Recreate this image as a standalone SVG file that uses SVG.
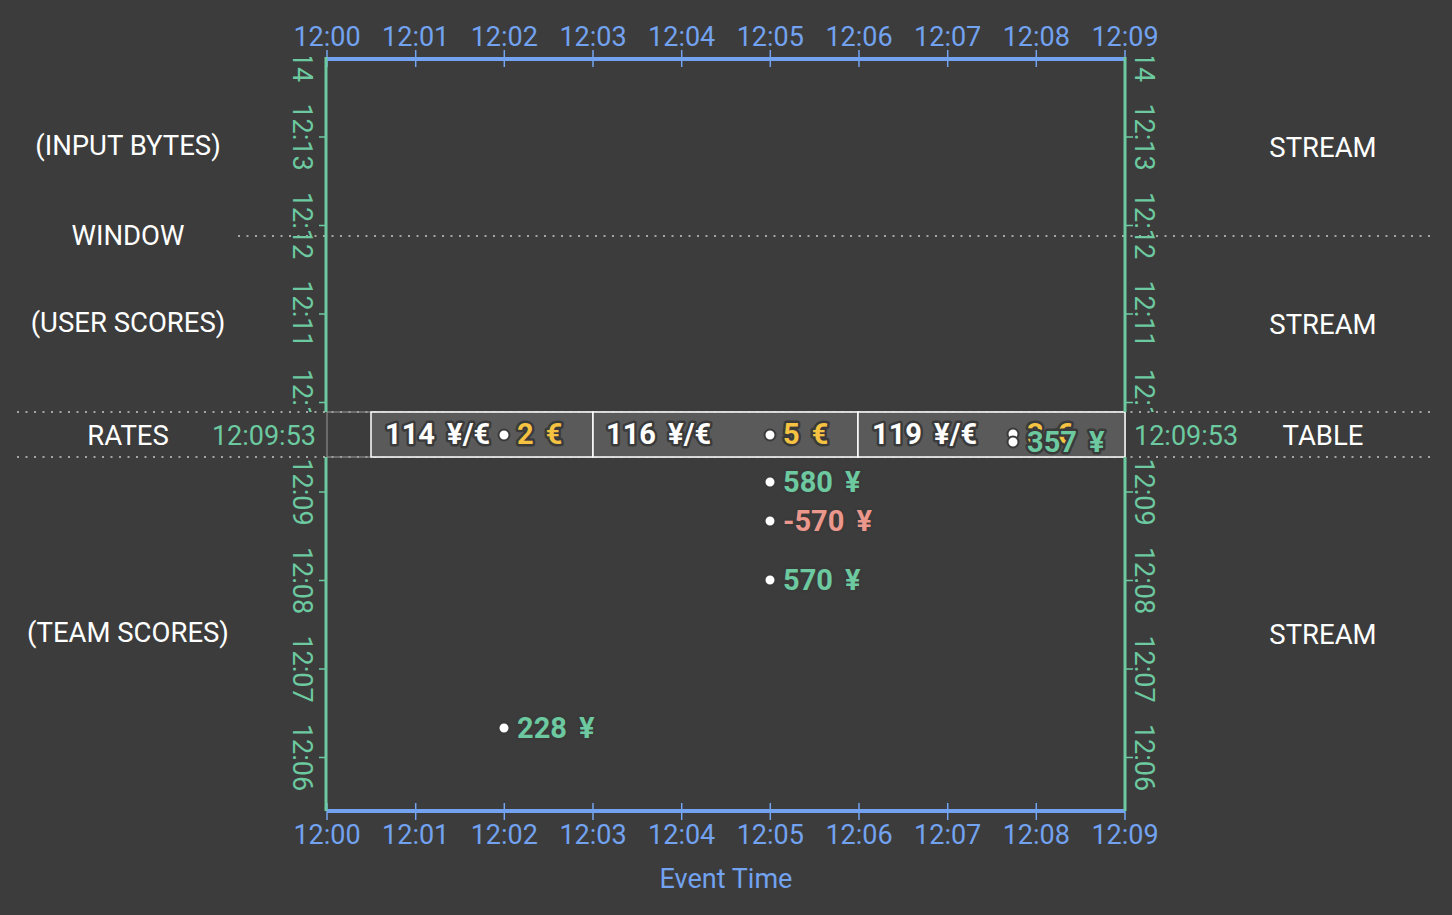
<svg xmlns="http://www.w3.org/2000/svg" width="1452" height="915" viewBox="0 0 1452 915">
<defs>
<style>
.bg{fill:#3c3c3c}
.ax{font-family:Roboto,"Liberation Sans",sans-serif;font-size:27px;fill:#72a2f0}
.gt{font-family:Roboto,"Liberation Sans",sans-serif;font-size:27px;fill:#6cc9a0}
.lab{font-family:Roboto,"Liberation Sans",sans-serif;font-size:27.5px;fill:#ffffff;text-anchor:middle}
.b{font-family:Roboto,"Liberation Sans",sans-serif;font-size:29px;font-weight:bold;word-spacing:5px;paint-order:stroke;stroke:#3a3a3a;stroke-width:5px;stroke-linejoin:round}
.w{fill:#ffffff}.o{fill:#f5c242}.g{fill:#6cc9a0}.r{fill:#ec978b}
.dot{fill:#ffffff;stroke:#3a3a3a;stroke-width:2}
.dl{stroke:#c8c8c8;stroke-width:1.5;stroke-dasharray:2 6.5;fill:none}
.blue{stroke:#72a2f0;fill:none}
.green{stroke:#6cc9a0;fill:none}
.cell{fill:#5a5a5a;stroke:#ffffff;stroke-width:1.5}
</style>
<clipPath id="cu"><rect x="0" y="57" width="1452" height="355"/></clipPath>
<clipPath id="cl"><rect x="0" y="457" width="1452" height="354"/></clipPath>
</defs>
<rect class="bg" x="0" y="0" width="1452" height="915"/>

<g id="row-labels">
<text class="lab" x="128" y="155">(INPUT BYTES)</text>
<text class="lab" x="128" y="245">WINDOW</text>
<text class="lab" x="128" y="332">(USER SCORES)</text>
<text class="lab" x="128" y="445">RATES</text>
<text class="lab" x="128" y="642">(TEAM SCORES)</text>
<text class="lab" x="1323" y="157">STREAM</text>
<text class="lab" x="1323" y="334">STREAM</text>
<text class="lab" x="1323" y="445">TABLE</text>
<text class="lab" x="1323" y="644">STREAM</text>
</g>

<g id="separators">
<line class="dl" x1="238" y1="236" x2="1436" y2="236"/>
<line class="dl" x1="17" y1="412" x2="1436" y2="412"/>
<line class="dl" x1="17" y1="457" x2="1436" y2="457"/>
</g>

<g id="rates-table">
<rect x="327" y="412" width="798" height="45" fill="none" stroke="#9a9a9a" stroke-width="1"/>
<rect class="cell" x="371" y="412" width="222" height="45"/>
<rect class="cell" x="593" y="412" width="265" height="45"/>
<rect class="cell" x="858" y="412" width="267" height="45"/>
<text class="gt" x="316" y="445" text-anchor="end">12:09:53</text>
<text class="gt" x="1134" y="445">12:09:53</text>
</g>

<g id="top-axis">
<line class="blue" x1="327" y1="59" x2="1125" y2="59" stroke-width="4"/>
<path class="blue" stroke-width="1.5" d="M327 50V67M415.7 50V67M504.3 50V67M593 50V67M681.7 50V67M770.3 50V67M859 50V67M947.7 50V67M1036.3 50V67M1125 50V67"/>
<g class="ax" text-anchor="middle">
<text x="327" y="46">12:00</text><text x="415.7" y="46">12:01</text><text x="504.3" y="46">12:02</text><text x="593" y="46">12:03</text><text x="681.7" y="46">12:04</text><text x="770.3" y="46">12:05</text><text x="859" y="46">12:06</text><text x="947.7" y="46">12:07</text><text x="1036.3" y="46">12:08</text><text x="1125" y="46">12:09</text>
</g>
</g>

<g id="bottom-axis">
<line class="blue" x1="327" y1="811" x2="1125" y2="811" stroke-width="4"/>
<path class="blue" stroke-width="1.5" d="M327 803V820M415.7 803V820M504.3 803V820M593 803V820M681.7 803V820M770.3 803V820M859 803V820M947.7 803V820M1036.3 803V820M1125 803V820"/>
<g class="ax" text-anchor="middle">
<text x="327" y="844">12:00</text><text x="415.7" y="844">12:01</text><text x="504.3" y="844">12:02</text><text x="593" y="844">12:03</text><text x="681.7" y="844">12:04</text><text x="770.3" y="844">12:05</text><text x="859" y="844">12:06</text><text x="947.7" y="844">12:07</text><text x="1036.3" y="844">12:08</text><text x="1125" y="844">12:09</text>
<text x="726" y="888">Event Time</text>
</g>
</g>

<g id="left-axis-upper">
<line class="green" x1="326" y1="57" x2="326" y2="412" stroke-width="3"/>
<path class="green" stroke-width="1.5" d="M319 137H326M319 225.5H326M319 314H326M319 402.5H326"/>
<g class="gt" text-anchor="middle" clip-path="url(#cu)">
<text transform="translate(293 48.5) rotate(90)">12:14</text>
<text transform="translate(293 137) rotate(90)">12:13</text>
<text transform="translate(293 225.5) rotate(90)">12:12</text>
<text transform="translate(293 314) rotate(90)">12:11</text>
<text transform="translate(293 402.5) rotate(90)">12:10</text>
</g>
</g>

<g id="right-axis-upper">
<line class="green" x1="1125" y1="57" x2="1125" y2="412" stroke-width="3"/>
<path class="green" stroke-width="1.5" d="M1125 137H1133M1125 225.5H1133M1125 314H1133M1125 402.5H1133"/>
<g class="gt" text-anchor="middle" clip-path="url(#cu)">
<text transform="translate(1135 48.5) rotate(90)">12:14</text>
<text transform="translate(1135 137) rotate(90)">12:13</text>
<text transform="translate(1135 225.5) rotate(90)">12:12</text>
<text transform="translate(1135 314) rotate(90)">12:11</text>
<text transform="translate(1135 402.5) rotate(90)">12:10</text>
</g>
</g>

<g id="left-axis-lower">
<line class="green" x1="326" y1="457" x2="326" y2="811" stroke-width="3"/>
<path class="green" stroke-width="1.5" d="M319 492H326M319 580.5H326M319 669H326M319 757.5H326"/>
<g class="gt" text-anchor="middle" clip-path="url(#cl)">
<text transform="translate(293 492) rotate(90)">12:09</text>
<text transform="translate(293 580.5) rotate(90)">12:08</text>
<text transform="translate(293 669) rotate(90)">12:07</text>
<text transform="translate(293 757.5) rotate(90)">12:06</text>
</g>
</g>

<g id="right-axis-lower">
<line class="green" x1="1125" y1="457" x2="1125" y2="811" stroke-width="3"/>
<path class="green" stroke-width="1.5" d="M1125 492H1133M1125 580.5H1133M1125 669H1133M1125 757.5H1133"/>
<g class="gt" text-anchor="middle" clip-path="url(#cl)">
<text transform="translate(1135 492) rotate(90)">12:09</text>
<text transform="translate(1135 580.5) rotate(90)">12:08</text>
<text transform="translate(1135 669) rotate(90)">12:07</text>
<text transform="translate(1135 757.5) rotate(90)">12:06</text>
</g>
</g>

<g id="rate-114"><text class="b w" x="385" y="444">114 ¥/€</text></g>
<g id="rate-116"><text class="b w" x="606" y="444">116 ¥/€</text></g>
<g id="rate-119"><text class="b w" x="872" y="444">119 ¥/€</text></g>

<g id="ev-2eur"><circle class="dot" cx="504" cy="435" r="5.5"/><text class="b o" x="517" y="444">2 €</text></g>
<g id="ev-5eur"><circle class="dot" cx="770" cy="435" r="5.5"/><text class="b o" x="783" y="444">5 €</text></g>
<g id="ev-3eur"><circle class="dot" cx="1013" cy="434" r="5.5"/><text class="b o" x="1027" y="444">3 €</text></g>
<g id="ev-357"><circle class="dot" cx="1013" cy="442" r="5.5"/><text class="b g" x="1027" y="452">357 ¥</text></g>

<g id="ev-580"><circle class="dot" cx="770" cy="482" r="5.5"/><text class="b g" x="783" y="492">580 ¥</text></g>
<g id="ev-m570"><circle class="dot" cx="770" cy="521" r="5.5"/><text class="b r" x="783" y="531">-570 ¥</text></g>
<g id="ev-570"><circle class="dot" cx="770" cy="580" r="5.5"/><text class="b g" x="783" y="590">570 ¥</text></g>
<g id="ev-228"><circle class="dot" cx="504" cy="728" r="5.5"/><text class="b g" x="517" y="738">228 ¥</text></g>
</svg>
